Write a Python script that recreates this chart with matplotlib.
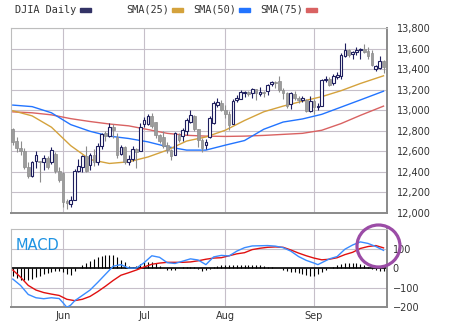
import numpy as np
import matplotlib.pyplot as plt
from matplotlib.patches import Rectangle, Ellipse
from matplotlib.ticker import FuncFormatter

# DJIA daily candles, 14 May .. 28 Sep (one row per trading day)
opens = [12813, 12699, 12630, 12600, 12450, 12362, 12508, 12505, 12498, 12531,
         12498, 12570, 12408, 12390, 12115, 12090, 12130, 12411, 12450, 12557,
         12470, 12560, 12498, 12650, 12775, 12747, 12840, 12741, 12573, 12647,
         12498, 12530, 12625, 12602, 12870, 12870, 12942, 12887, 12757, 12735,
         12660, 12612, 12563, 12757, 12747, 12800, 12887, 12942, 12813, 12715,
         12660, 12735, 12877, 13050, 13071, 12999, 12964, 12870, 13096, 13113,
         13165, 13178, 13170, 13205, 13160, 13175, 13187, 13255, 13275, 13280,
         13200, 13165, 13064, 13160, 13120, 13100, 13100, 12995, 13090, 13030,
         13045, 13290, 13308, 13265, 13320, 13330, 13525, 13590, 13545, 13565,
         13585, 13600, 13575, 13555, 13400, 13410, 13480]
highs = [12830, 12740, 12700, 12630, 12500, 12510, 12600, 12510, 12560, 12550,
         12640, 12590, 12450, 12400, 12140, 12170, 12430, 12530, 12560, 12650,
         12580, 12620, 12680, 12780, 12800, 12880, 12870, 12780, 12660, 12650,
         12560, 12650, 12630, 12880, 12930, 12960, 12970, 12890, 12770, 12800,
         12690, 12620, 12790, 12780, 12830, 12920, 13000, 12950, 12820, 12730,
         12720, 12940, 13090, 13120, 13100, 13050, 12990, 13110, 13150, 13200,
         13190, 13190, 13215, 13210, 13230, 13190, 13260, 13280, 13280, 13330,
         13215, 13175, 13180, 13190, 13140, 13140, 13110, 13140, 13110, 13070,
         13300, 13330, 13320, 13350, 13370, 13560, 13650, 13600, 13580, 13620,
         13610, 13640, 13620, 13590, 13440, 13530, 13490]
lows = [12660, 12595, 12560, 12430, 12340, 12350, 12440, 12300, 12420, 12430,
        12480, 12390, 12300, 12060, 12035, 12060, 12125, 12400, 12400, 12400,
        12420, 12460, 12470, 12620, 12700, 12740, 12730, 12540, 12560, 12480,
        12470, 12510, 12440, 12600, 12840, 12860, 12830, 12730, 12680, 12630,
        12580, 12520, 12560, 12690, 12700, 12760, 12880, 12800, 12640, 12590,
        12620, 12730, 12870, 13030, 12990, 12920, 12810, 12865, 13080, 13110,
        13130, 13140, 13120, 13100, 13140, 13130, 13150, 13240, 13220, 13180,
        13110, 13020, 13010, 13100, 13070, 13080, 12980, 12980, 12960, 13000,
        13040, 13270, 13240, 13250, 13300, 13300, 13520, 13520, 13500, 13540,
        13500, 13560, 13500, 13430, 13380, 13400, 13360]
closes = [12692, 12630, 12600, 12450, 12360, 12498, 12563, 12495, 12537, 12450,
          12612, 12408, 12320, 12110, 12095, 12125, 12410, 12460, 12550, 12411,
          12560, 12500, 12650, 12767, 12745, 12838, 12812, 12563, 12647, 12498,
          12530, 12625, 12595, 12840, 12905, 12942, 12845, 12757, 12700, 12651,
          12612, 12550, 12774, 12709, 12806, 12903, 12952, 12822, 12709, 12628,
          12690, 12929, 13071, 13080, 12999, 12960, 12861, 13090, 13122, 13174,
          13180, 13160, 13205, 13165, 13175, 13165, 13250, 13272, 13265, 13195,
          13170, 13045, 13165, 13120, 13100, 13115, 12990, 13090, 13036, 13045,
          13290, 13308, 13250, 13330, 13340, 13535, 13590, 13540, 13565, 13585,
          13600, 13570, 13525, 13440, 13430, 13480, 13420]

# moving averages read every five sessions
sma_days = [0, 5, 10, 15, 20, 25, 30, 35, 40, 45, 50, 55, 60, 65, 70, 75, 80, 85, 90, 96]
sma25 = [12995, 12945, 12835, 12655, 12520, 12482, 12498, 12545, 12612, 12700,
         12740, 12805, 12900, 12985, 13040, 13088, 13132, 13190, 13260, 13335]
sma50 = [13050, 13035, 12975, 12860, 12795, 12748, 12725, 12692, 12645, 12612,
         12612, 12660, 12705, 12815, 12885, 12915, 12960, 13030, 13100, 13185]
sma75 = [12984, 12975, 12955, 12918, 12890, 12866, 12848, 12812, 12775, 12756,
         12748, 12745, 12748, 12755, 12765, 12775, 12805, 12870, 12950, 13040]

# MACD panel
macd_days = [0, 2, 4, 6, 8, 10, 12, 13, 14, 15, 16, 18, 20, 22, 24, 26, 28, 30, 32, 34,
             36, 38, 40, 42, 44, 46, 48, 50, 52, 54, 56, 58, 60, 62, 64, 66, 68, 70,
             72, 74, 76, 78, 79, 80, 82, 84, 86, 88, 90, 92, 94, 96]
macd_vals = [-55, -88, -135, -152, -157, -152, -156, -178, -202, -190, -168, -140,
             -112, -72, -30, 12, 20, 2, 2, 30, 66, 58, 30, 26, 38, 50, 44, 20, 60,
             68, 65, 90, 108, 117, 118, 119, 116, 108, 90, 62, 42, 28, 20, 30, 50,
             62, 100, 122, 138, 130, 114, 94]
signal_days = list(range(0, 97, 2))
signal_vals = [-8, -45, -88, -112, -125, -133, -140, -160, -167, -160, -145, -120,
               -92, -62, -35, -22, -8, 8, 22, 28, 32, 32, 32, 34, 40, 48, 54, 56,
               66, 76, 82, 98, 105, 110, 112, 110, 96, 80, 66, 54, 45, 48, 56, 72,
               84, 104, 114, 119, 107]
hist = [-40, -50, -58, -62, -60, -55, -46, -38, -30, -24, -18, -14, -12, -20, -30, -34, -12,
        5, 16, 28, 40, 50, 58, 64, 68, 70, 68, 58, 46, 34, 12, 10, 12, 22, 32, 36, 36, 26, 14, 4,
        -6, -8, -6, 2, 6, 10, 10, 6, -4, -12, -10, -5, 6, 12, 16, 18, 18, 16, 18, 18, 18, 20,
        20, 18, 16, 12, 8, 6, 4, 2,
        -6, -12, -16, -20, -24, -28, -34, -38, -38, -30, -18, -6, 4, 10, 16, 22, 28, 30, 30,
        28, 24, 16, 8, -4, -10, -12, -14]

month_days = [13, 34, 55, 78]
month_labels = ['Jun', 'Jul', 'Aug', 'Sep']
price_ticks = list(range(12000, 13801, 200))
macd_ticks = [-200, -100, 0, 100]

NAVY = '#1e1e5e'
GRAY = '#9c9c9c'
GRID = '#c6bfc9'
TXT = '#333333'

W, H = 450, 328
fig = plt.figure(figsize=(4.5, 3.28), dpi=100)
fig.patch.set_facecolor('white')


def box(x0, y0, x1, y1):
    # pixel box -> figure fraction
    return [x0 / W, 1 - y1 / H, (x1 - x0) / W, (y1 - y0) / H]


def style_frame(ax):
    ax.set_facecolor('white')
    ax.spines['left'].set_color('#bdbdbd')
    ax.spines['top'].set_color('#bdbdbd')
    for s in ('left', 'top'):
        ax.spines[s].set_linewidth(0.8)
    for s in ('right', 'bottom'):
        ax.spines[s].set_color('#8a8a8a')
        ax.spines[s].set_linewidth(1.4)
    ax.yaxis.tick_right()
    ax.tick_params(length=0, labelsize=7, labelcolor=TXT)
    ax.set_xlim(-0.47, 96.9)
    for d in month_days:
        ax.axvline(d, color=GRID, lw=0.8, zorder=0)


days = np.arange(len(closes))
o = np.array(opens)
c = np.array(closes)
up = c >= o

# price panel
ax1 = fig.add_axes(box(11, 28, 387, 213))
style_frame(ax1)
ax1.set_ylim(12000, 13800)
ax1.set_yticks(price_ticks)
ax1.yaxis.set_major_formatter(FuncFormatter(lambda v, p: f'{int(v):,}'))
ax1.tick_params(axis='y', pad=7)
ax1.set_xticks([])
for t in price_ticks:
    ax1.axhline(t, color=GRID, lw=0.8, zorder=0)

ax1.plot(sma_days, sma75, color='#d96262', lw=1.0, zorder=1)
ax1.plot(sma_days, sma50, color='#2274ff', lw=1.0, zorder=1)
ax1.plot(sma_days, sma25, color='#d4a23c', lw=1.0, zorder=1)

ax1.vlines(days[up], np.array(lows)[up], np.array(highs)[up], color=NAVY, lw=0.8, zorder=2)
ax1.vlines(days[~up], np.array(lows)[~up], np.array(highs)[~up], color='#8c8c8c', lw=0.8, zorder=2)
body = np.maximum(np.abs(c - o), 6)
ax1.bar(days[up], body[up], bottom=o[up], width=0.7, facecolor='white',
        edgecolor=NAVY, linewidth=0.8, zorder=3)
ax1.bar(days[~up], body[~up], bottom=c[~up], width=0.7, facecolor=GRAY,
        edgecolor='#8c8c8c', linewidth=0.5, zorder=3)

# MACD panel
ax2 = fig.add_axes(box(11, 229, 387, 307))
style_frame(ax2)
ax2.set_ylim(-200, 205)
ax2.set_yticks(macd_ticks)
ax2.tick_params(axis='y', pad=4)
ax2.set_xticks(month_days)
ax2.set_xticklabels(month_labels)
ax2.tick_params(axis='x', pad=3)
for t in (100, -100):
    ax2.axhline(t, color=GRID, lw=0.8, zorder=0)
ax2.axhline(0, color='black', lw=1.2, zorder=2)
ax2.vlines(days, 0, hist, color='black', lw=0.8, zorder=2)
ax2.plot(signal_days, signal_vals, color='#e01010', lw=1.0, zorder=3)
ax2.plot(macd_days, macd_vals, color='#3a8cff', lw=1.0, zorder=4)
ax2.text(0.012, 0.88, 'MACD', transform=ax2.transAxes, color='#1d92e2',
         fontsize=10.5, va='top', ha='left')

# legend strip along the top
mono = dict(family='DejaVu Sans Mono', size=7.4, color=TXT, va='center')
fig.text(15 / W, 1 - 10 / H, 'DJIA Daily', **mono)
for x0, lab, col in [(126, 'SMA(25)', '#d4a23c'), (193, 'SMA(50)', '#2274ff'),
                     (260, 'SMA(75)', '#d96262')]:
    fig.text(x0 / W, 1 - 10 / H, lab, **mono)
for x0, col in [(80, '#333366'), (172, '#d4a23c'), (239, '#2274ff'), (306, '#d96262')]:
    fig.add_artist(Rectangle((x0 / W, 1 - 12 / H), 11 / W, 4 / H,
                             transform=fig.transFigure, color=col))

# highlight ring over the latest crossover
fig.add_artist(Ellipse((378.5 / W, 1 - 246 / H), 43 / W, 42 / H,
                       transform=fig.transFigure, fill=False,
                       ec='#9b4ca6', lw=2.3, zorder=10))

fig.savefig('out.png', dpi=100)
